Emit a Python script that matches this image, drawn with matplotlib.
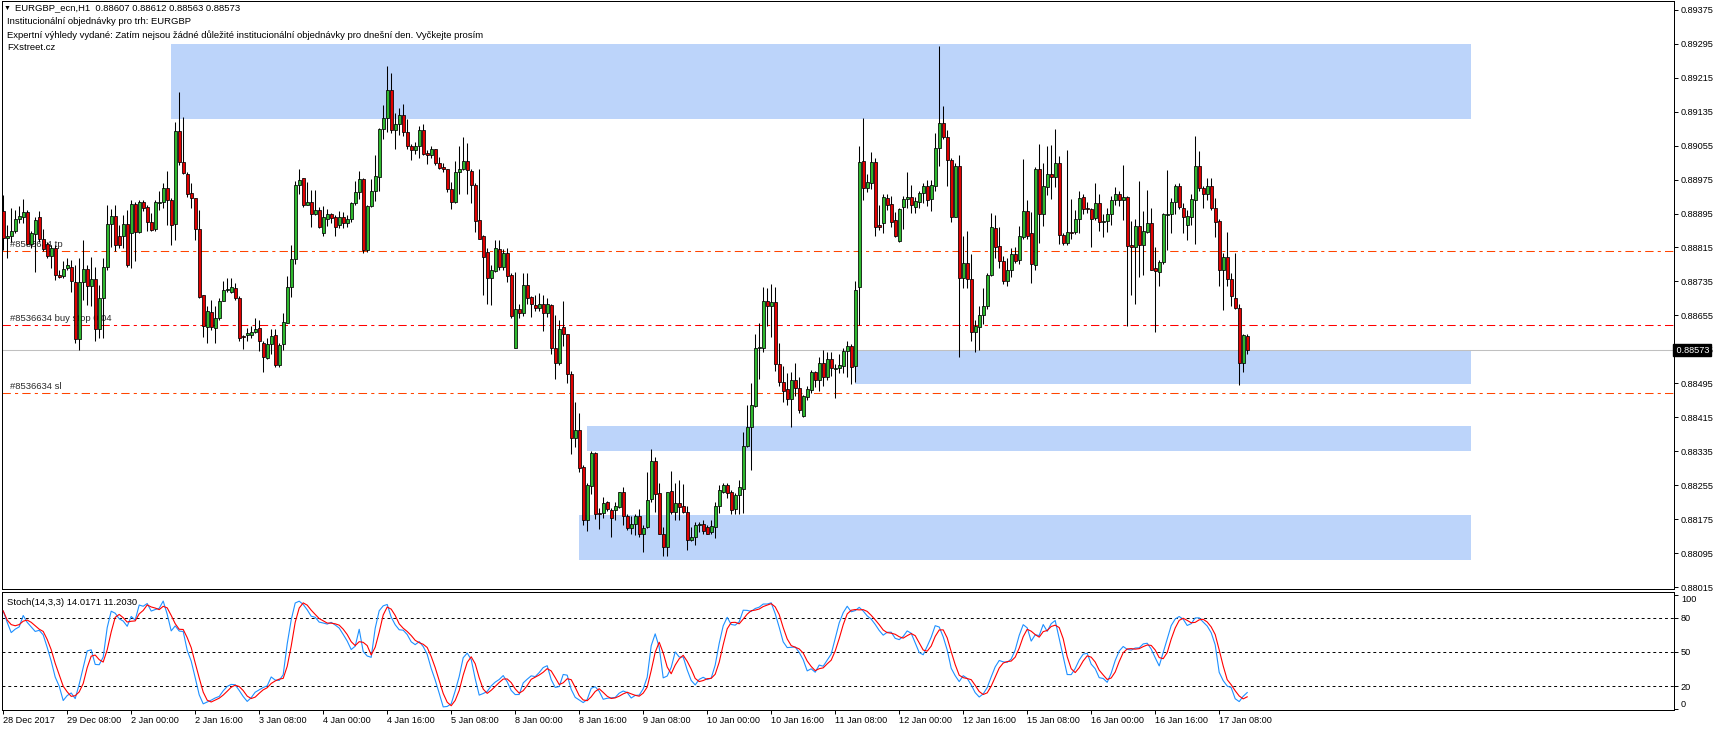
import numpy as np
import pandas as pd
import matplotlib
matplotlib.use('Agg')
import matplotlib.pyplot as plt
from matplotlib.patches import Rectangle
from matplotlib.transforms import ScaledTranslation

plt.rcParams['font.family'] = ['Liberation Sans', 'DejaVu Sans']

# EURGBP H1 bars, weekends and 1 Jan closed
sessions = [('2017-12-28 16:00', '2017-12-29 23:00'),
            ('2018-01-02 00:00', '2018-01-05 23:00'),
            ('2018-01-08 00:00', '2018-01-12 23:00'),
            ('2018-01-15 00:00', '2018-01-17 15:00')]
times = pd.DatetimeIndex([t for a, b in sessions for t in pd.date_range(a, b, freq='h')])

# prices in points (1e-5)
opens = [
    88901, 88837, 88843, 88853, 88882, 88888, 88899, 88823, 88846, 88886, 88835, 88823, 88794, 88813, 88751, 88747,
    88766, 88769, 88733, 88600, 88733, 88765, 88725, 88741, 88623, 88696, 88768, 88870, 88890, 88842, 88843, 88870,
    88849, 88918, 88851, 88922, 88910, 88876, 88858, 88919, 88922, 88955, 88927, 88870, 89090, 89016, 88988, 88943,
    88931, 88859, 88702, 88627, 88664, 88625, 88649, 88689, 88714, 88711, 88720, 88696, 88607, 88608, 88609, 88616,
    88625, 88590, 88554, 88587, 88609, 88538, 88587, 88638, 88721, 88788, 88963, 88978, 88916, 88922, 88893, 88903,
    88850, 88883, 88893, 88886, 88868, 88886, 88872, 88882, 88919, 88945, 88976, 88810, 88912, 88948, 88981, 89094,
    89119, 89186, 89091, 89105, 89128, 89086, 89055, 89044, 89053, 89091, 89038, 89034, 89048, 89013, 89004, 89001,
    88952, 88923, 88992, 89001, 89018, 88995, 88962, 88879, 88842, 88805, 88742, 88760, 88811, 88769, 88803, 88750,
    88579, 88671, 88661, 88726, 88699, 88679, 88673, 88681, 88660, 88679, 88579, 88542, 88628, 88610, 88516, 88365,
    88385, 88298, 88174, 88254, 88330, 88190, 88189, 88216, 88196, 88196, 88204, 88238, 88182, 88153, 88163, 88182,
    88139, 88157, 88222, 88313, 88237, 88140, 88110, 88241, 88191, 88212, 88207, 88191, 88126, 88134, 88160, 88163,
    88156, 88144, 88157, 88207, 88240, 88255, 88238, 88198, 88232, 88247, 88347, 88391, 88442, 88577, 88579, 88689,
    88676, 88687, 88540, 88499, 88482, 88458, 88503, 88484, 88417, 88463, 88480, 88521, 88502, 88544, 88511, 88552,
    88529, 88531, 88536, 88572, 88583, 88535, 88721, 89019, 88956, 88968, 89016, 88868, 88872, 88931, 88917, 88880,
    88831, 88910, 88929, 88934, 88910, 88923, 88943, 88959, 88929, 88959, 89049, 89108, 89075, 89020, 88888, 89006,
    88744, 88778, 88740, 88615, 88627, 88656, 88678, 88751, 88860, 88819, 88782, 88735, 88763, 88799, 88785, 88840,
    88901, 88848, 88774, 88999, 88895, 88958, 88987, 88982, 89013, 88844, 88825, 88851, 88851, 88883, 88933, 88907,
    88905, 88885, 88921, 88875, 88877, 88893, 88927, 88942, 88928, 88935, 88820, 88815, 88865, 88822, 88851, 88872,
    88766, 88758, 88781, 88891, 88895, 88923, 88961, 88909, 88869, 88887, 88928, 89007, 88954, 88942, 88959, 88909,
    88877, 88763, 88793, 88740, 88697, 88672, 88544, 88607]
highs = [
    88939, 88868, 88908, 88904, 88912, 88929, 88904, 88853, 88888, 88901, 88859, 88829, 88821, 88821, 88762, 88782,
    88790, 88786, 88774, 88790, 88833, 88774, 88792, 88770, 88727, 88790, 88915, 88906, 88915, 88868, 88892, 88904,
    88927, 88922, 88927, 88927, 88915, 88897, 88927, 88947, 88966, 88996, 88931, 89110, 89181, 89122, 88992, 88966,
    88931, 88904, 88703, 88676, 88692, 88676, 88696, 88735, 88743, 88743, 88731, 88700, 88608, 88625, 88631, 88649,
    88645, 88594, 88602, 88623, 88623, 88591, 88660, 88748, 88822, 88971, 89000, 88979, 88970, 88950, 88950, 88911,
    88913, 88905, 88897, 88891, 88901, 88899, 88891, 88923, 88971, 88995, 88979, 88915, 88976, 89032, 89097, 89150,
    89242, 89227, 89131, 89144, 89152, 89117, 89060, 89064, 89102, 89107, 89044, 89055, 89048, 89029, 89015, 89001,
    88970, 89018, 89055, 89076, 89062, 88999, 88966, 89000, 88844, 88813, 88773, 88832, 88832, 88811, 88813, 88756,
    88758, 88683, 88756, 88755, 88700, 88703, 88707, 88704, 88695, 88683, 88656, 88644, 88689, 88612, 88524, 88452,
    88424, 88302, 88259, 88335, 88332, 88202, 88228, 88218, 88202, 88216, 88240, 88251, 88186, 88182, 88186, 88199,
    88160, 88285, 88340, 88321, 88259, 88156, 88240, 88288, 88259, 88266, 88257, 88207, 88156, 88167, 88167, 88173,
    88160, 88173, 88216, 88255, 88261, 88261, 88243, 88236, 88267, 88381, 88444, 88496, 88612, 88638, 88722, 88719,
    88729, 88721, 88591, 88536, 88519, 88521, 88543, 88510, 88468, 88488, 88527, 88525, 88558, 88574, 88568, 88568,
    88540, 88565, 88578, 88594, 88588, 88736, 89053, 89120, 88988, 89040, 89027, 88914, 88941, 88940, 88937, 88898,
    88909, 88937, 88992, 88962, 88934, 88949, 88968, 88973, 88974, 89084, 89290, 89149, 89092, 89025, 89015, 89033,
    88841, 88854, 88800, 88643, 88676, 88719, 88755, 88897, 88892, 88863, 88795, 88790, 88813, 88815, 88865, 89023,
    88927, 88899, 89004, 89060, 89013, 89054, 89056, 89095, 89030, 88848, 89044, 88929, 88903, 88949, 88942, 88923,
    88907, 88967, 88941, 88895, 88907, 88936, 88958, 88949, 89009, 88937, 88878, 88883, 88972, 88902, 88950, 88907,
    88815, 88785, 88897, 88997, 88931, 88964, 88966, 88919, 88903, 88941, 89077, 89042, 88960, 88978, 88978, 88931,
    88881, 88803, 88851, 88756, 88801, 88682, 88610, 88612]
lows = [
    88809, 88790, 88829, 88849, 88872, 88872, 88821, 88813, 88758, 88829, 88806, 88790, 88766, 88739, 88743, 88743,
    88762, 88711, 88590, 88574, 88692, 88680, 88676, 88594, 88601, 88601, 88762, 88817, 88807, 88813, 88813, 88770,
    88766, 88782, 88849, 88900, 88853, 88853, 88853, 88904, 88908, 88868, 88821, 88833, 89010, 88988, 88933, 88908,
    88833, 88696, 88605, 88590, 88621, 88590, 88645, 88688, 88711, 88707, 88692, 88594, 88576, 88594, 88601, 88613,
    88570, 88521, 88552, 88565, 88534, 88534, 88573, 88636, 88699, 88777, 88940, 88911, 88915, 88864, 88891, 88861,
    88843, 88866, 88872, 88843, 88860, 88861, 88864, 88876, 88916, 88929, 88803, 88805, 88911, 88924, 88948, 89070,
    89087, 89084, 89048, 89080, 89078, 89048, 89021, 89036, 89025, 89032, 89011, 89025, 89009, 89001, 88993, 88946,
    88905, 88920, 88942, 88997, 88942, 88921, 88852, 88834, 88703, 88681, 88679, 88758, 88762, 88762, 88734, 88648,
    88579, 88648, 88654, 88681, 88652, 88665, 88665, 88619, 88652, 88563, 88505, 88538, 88583, 88496, 88328, 88346,
    88285, 88161, 88148, 88233, 88175, 88152, 88178, 88194, 88134, 88173, 88202, 88160, 88149, 88139, 88138, 88134,
    88097, 88155, 88216, 88191, 88139, 88089, 88087, 88186, 88173, 88173, 88189, 88102, 88123, 88114, 88145, 88141,
    88139, 88139, 88130, 88189, 88236, 88224, 88186, 88186, 88186, 88189, 88344, 88291, 88440, 88506, 88568, 88630,
    88605, 88523, 88488, 88452, 88443, 88393, 88464, 88425, 88415, 88456, 88473, 88486, 88476, 88489, 88503, 88513,
    88460, 88519, 88519, 88511, 88493, 88497, 88633, 88927, 88945, 88953, 88843, 88857, 88850, 88904, 88863, 88839,
    88829, 88859, 88909, 88896, 88897, 88909, 88919, 88913, 88902, 88947, 89006, 89070, 88961, 88876, 88886, 88557,
    88719, 88719, 88594, 88568, 88574, 88634, 88670, 88748, 88790, 88766, 88729, 88725, 88745, 88779, 88777, 88836,
    88836, 88732, 88762, 88825, 88865, 88938, 88929, 88958, 88823, 88821, 88821, 88836, 88847, 88850, 88894, 88897,
    88817, 88880, 88854, 88840, 88852, 88868, 88915, 88913, 88880, 88631, 88703, 88682, 88746, 88750, 88848, 88762,
    88617, 88725, 88776, 88809, 88848, 88895, 88905, 88848, 88832, 88868, 88823, 88949, 88907, 88928, 88903, 88839,
    88724, 88668, 88724, 88677, 88669, 88491, 88522, 88563]
closes = [
    88838, 88841, 88854, 88882, 88890, 88899, 88823, 88849, 88880, 88835, 88811, 88794, 88813, 88749, 88746, 88765,
    88773, 88735, 88600, 88733, 88765, 88725, 88741, 88623, 88696, 88769, 88870, 88890, 88821, 88820, 88870, 88774,
    88918, 88851, 88922, 88909, 88875, 88857, 88923, 88923, 88956, 88926, 88868, 89090, 89016, 88990, 88941, 88931,
    88859, 88698, 88629, 88665, 88627, 88649, 88689, 88714, 88717, 88721, 88696, 88601, 88604, 88613, 88617, 88623,
    88594, 88556, 88587, 88607, 88538, 88585, 88640, 88721, 88788, 88963, 88975, 88916, 88922, 88894, 88903, 88864,
    88886, 88893, 88885, 88864, 88886, 88872, 88883, 88919, 88945, 88976, 88810, 88912, 88948, 88983, 89094, 89119,
    89186, 89091, 89105, 89128, 89086, 89055, 89044, 89053, 89091, 89036, 89034, 89048, 89013, 89003, 89000, 88952,
    88923, 88992, 89001, 89019, 88997, 88962, 88878, 88836, 88793, 88744, 88762, 88813, 88770, 88803, 88748, 88654,
    88671, 88660, 88726, 88697, 88681, 88673, 88683, 88661, 88681, 88579, 88544, 88624, 88610, 88516, 88365, 88385,
    88296, 88174, 88255, 88330, 88186, 88186, 88212, 88199, 88178, 88206, 88238, 88182, 88153, 88163, 88182, 88141,
    88155, 88220, 88313, 88233, 88141, 88110, 88238, 88191, 88212, 88204, 88191, 88126, 88134, 88161, 88163, 88148,
    88141, 88158, 88207, 88243, 88255, 88236, 88196, 88232, 88251, 88347, 88391, 88444, 88577, 88580, 88689, 88678,
    88687, 88540, 88499, 88478, 88458, 88503, 88484, 88433, 88466, 88481, 88521, 88502, 88544, 88511, 88552, 88531,
    88532, 88539, 88570, 88583, 88533, 88715, 89016, 88956, 88969, 89016, 88864, 88864, 88934, 88914, 88876, 88842,
    88905, 88929, 88934, 88914, 88924, 88943, 88959, 88926, 88962, 89049, 89108, 89075, 89020, 88886, 89006, 88743,
    88778, 88740, 88617, 88629, 88656, 88676, 88751, 88863, 88817, 88782, 88735, 88762, 88799, 88784, 88842, 88901,
    88843, 88775, 88999, 88895, 88960, 88987, 88980, 89015, 88844, 88825, 88851, 88848, 88883, 88932, 88905, 88906,
    88883, 88921, 88876, 88877, 88893, 88927, 88942, 88928, 88935, 88819, 88815, 88865, 88821, 88854, 88872, 88763,
    88760, 88781, 88893, 88895, 88923, 88961, 88911, 88886, 88889, 88929, 89007, 88954, 88942, 88959, 88909, 88876,
    88763, 88793, 88740, 88701, 88673, 88544, 88609, 88573]

opens = np.array(opens) / 1e5
highs = np.array(highs) / 1e5
lows = np.array(lows) / 1e5
closes = np.array(closes) / 1e5

# stoch values for the first bars (their 14-bar window starts off screen)
k_first = [86, 76, 67, 70, 72, 82, 76, 72, 68, 69, 65, 54, 42, 28, 20]
d_first = [86, 78, 74, 73, 74, 77, 78, 76, 73, 70, 68, 61, 52, 40, 30, 20, 15]

# institutional order zones: first bar, last bar, low, high
zone_start = [42, 213, 146, 144]
zone_end = [367, 367, 367, 367]
zone_low = [0.89118, 0.88494, 0.88336, 0.88079]
zone_high = [0.89294, 0.88573, 0.88394, 0.88185]

# order lines
order_names = ['#8536634 tp', '#8536634 buy stop 0.04', '#8536634 sl']
order_prices = [0.88807, 0.88632, 0.88472]
order_colors = ['#FF4500', '#FF0000', '#FF4500']
bid = 0.88573

price_ticks = np.round(np.arange(0.88015, 0.8938, 0.0008), 5)
stoch_levels = [20, 50, 80]

# Stoch(14,3,3) from the candles, the way MT4 builds it
hi, lo, cl = pd.Series(highs), pd.Series(lows), pd.Series(closes)
hh = hi.rolling(14).max()
ll = lo.rolling(14).min()
k_line = 100 * (cl - ll).rolling(3).sum() / (hh - ll).rolling(3).sum()
k_line[:len(k_first)] = k_first
d_line = k_line.rolling(3).mean()
d_line[:len(d_first)] = d_first

W, H = 1717, 731
fig = plt.figure(figsize=(W / 100, H / 100), dpi=100)
ax = fig.add_axes([2 / W, 1 - 589 / H, 1672 / W, 588 / H])
ax2 = fig.add_axes([2 / W, 1 - 710 / H, 1672 / W, 118 / H])
x = np.arange(len(times))

for a in (ax, ax2):
    a.set_xlim(-0.3, 417.7)
    for s in a.spines.values():
        s.set_linewidth(0.72)
        s.set_color('black')

ax.set_ylim(0.880103, 0.893958)

# zones
for x0, x1, y0, y1 in zip(zone_start, zone_end, zone_low, zone_high):
    ax.add_patch(Rectangle((x0, y0), x1 - x0, y1 - y0, facecolor='#BCD4FA', edgecolor='none', zorder=0))

ax.axhline(bid, color='#C0C0C0', lw=0.75, zorder=1)
for name, p, c in zip(order_names, order_prices, order_colors):
    ax.axhline(p, color=c, lw=0.75, ls=(0, (8, 4, 3, 4)), zorder=1)
    ax.annotate(name, xy=(1.7, p), xytext=(0, 1.5), textcoords='offset points',
                fontsize=6.8, color='#2A2A2A', va='bottom', ha='left', zorder=2)

# candles
up = closes >= opens
ax.vlines(x, lows, highs, color='black', lw=0.75, zorder=3)
ax.bar(x, np.abs(closes - opens), bottom=np.minimum(opens, closes), width=0.72,
       color=np.where(up, '#2EB82E', '#E00000'), edgecolor='black', linewidth=0.55, zorder=4)

ax.yaxis.tick_right()
ax.set_yticks(price_ticks)
ax.set_yticklabels([f'{p:.5f}' for p in price_ticks])
ax.tick_params(axis='y', labelsize=6.6, length=3, width=0.7, pad=2)
ax.tick_params(axis='x', bottom=False, labelbottom=False)
ax.text(1.0, bid, f' {bid:.5f}', transform=ax.get_yaxis_transform(), va='center', ha='left',
        fontsize=6.6, color='white', zorder=10, clip_on=False,
        bbox=dict(boxstyle='square,pad=0.15', fc='black', ec='black'))

# stochastic panel
ax2.set_ylim(-0.9, 102.6)
for lv in stoch_levels:
    ax2.axhline(lv, color='black', lw=0.7, ls=(0, (3, 3)), zorder=1)
ax2.plot(x, k_line, color='#1E90FF', lw=0.8, zorder=2)
ax2.plot(x, d_line, color='#FF0000', lw=0.8, zorder=3)
ax2.yaxis.tick_right()
ax2.set_yticks([0, 20, 50, 80, 100])
ax2.tick_params(axis='y', labelsize=6.6, length=3, width=0.7, pad=2)
# MT4 pulls the 0 and 100 labels inside the window
yl = ax2.get_yticklabels(which='major')
for lbl, dy in zip(ax2.yaxis.get_majorticklabels(), [5, 0, 0, 0, -4]):
    lbl.set_transform(lbl.get_transform() + ScaledTranslation(0, dy / 100, fig.dpi_scale_trans))
ax2.text(0.003, 0.915, 'Stoch(14,3,3) 14.0171 11.2030', transform=ax2.transAxes,
         fontsize=6.8, va='center', ha='left')

tick_idx = x[::16]
tick_lbl = [f'{times[0].day} {times[0]:%b %Y}'] + [f'{t.day} {t:%b %H:%M}' for t in times[tick_idx[1:]]]
ax2.set_xticks(tick_idx)
ax2.set_xticklabels(tick_lbl, ha='left')
ax2.tick_params(axis='x', labelsize=6.6, length=3, width=0.7, pad=1)

# header text
fig.text(4 / W, 1 - 8 / H, '\u25BC', fontsize=5, va='center', ha='left')
fig.text(15 / W, 1 - 8 / H,
         f'EURGBP_ecn,H1  {opens[-1]:.5f} {highs[-1]:.5f} {lows[-1]:.5f} {closes[-1]:.5f}',
         fontsize=6.8, va='center', ha='left')
fig.text(7 / W, 1 - 22 / H, 'Institucionální objednávky pro trh: EURGBP', fontsize=6.8, va='center')
fig.text(7 / W, 1 - 35 / H, 'Expertní výhledy vydané: Zatím nejsou žádné důležité institucionální '
         'objednávky pro dnešní den. Vyčkejte prosím', fontsize=6.8, va='center')
fig.text(7 / W, 1 - 47 / H, 'FXstreet.cz', fontsize=6.8, va='center')

fig.savefig('out.png', dpi=100, facecolor='white')
